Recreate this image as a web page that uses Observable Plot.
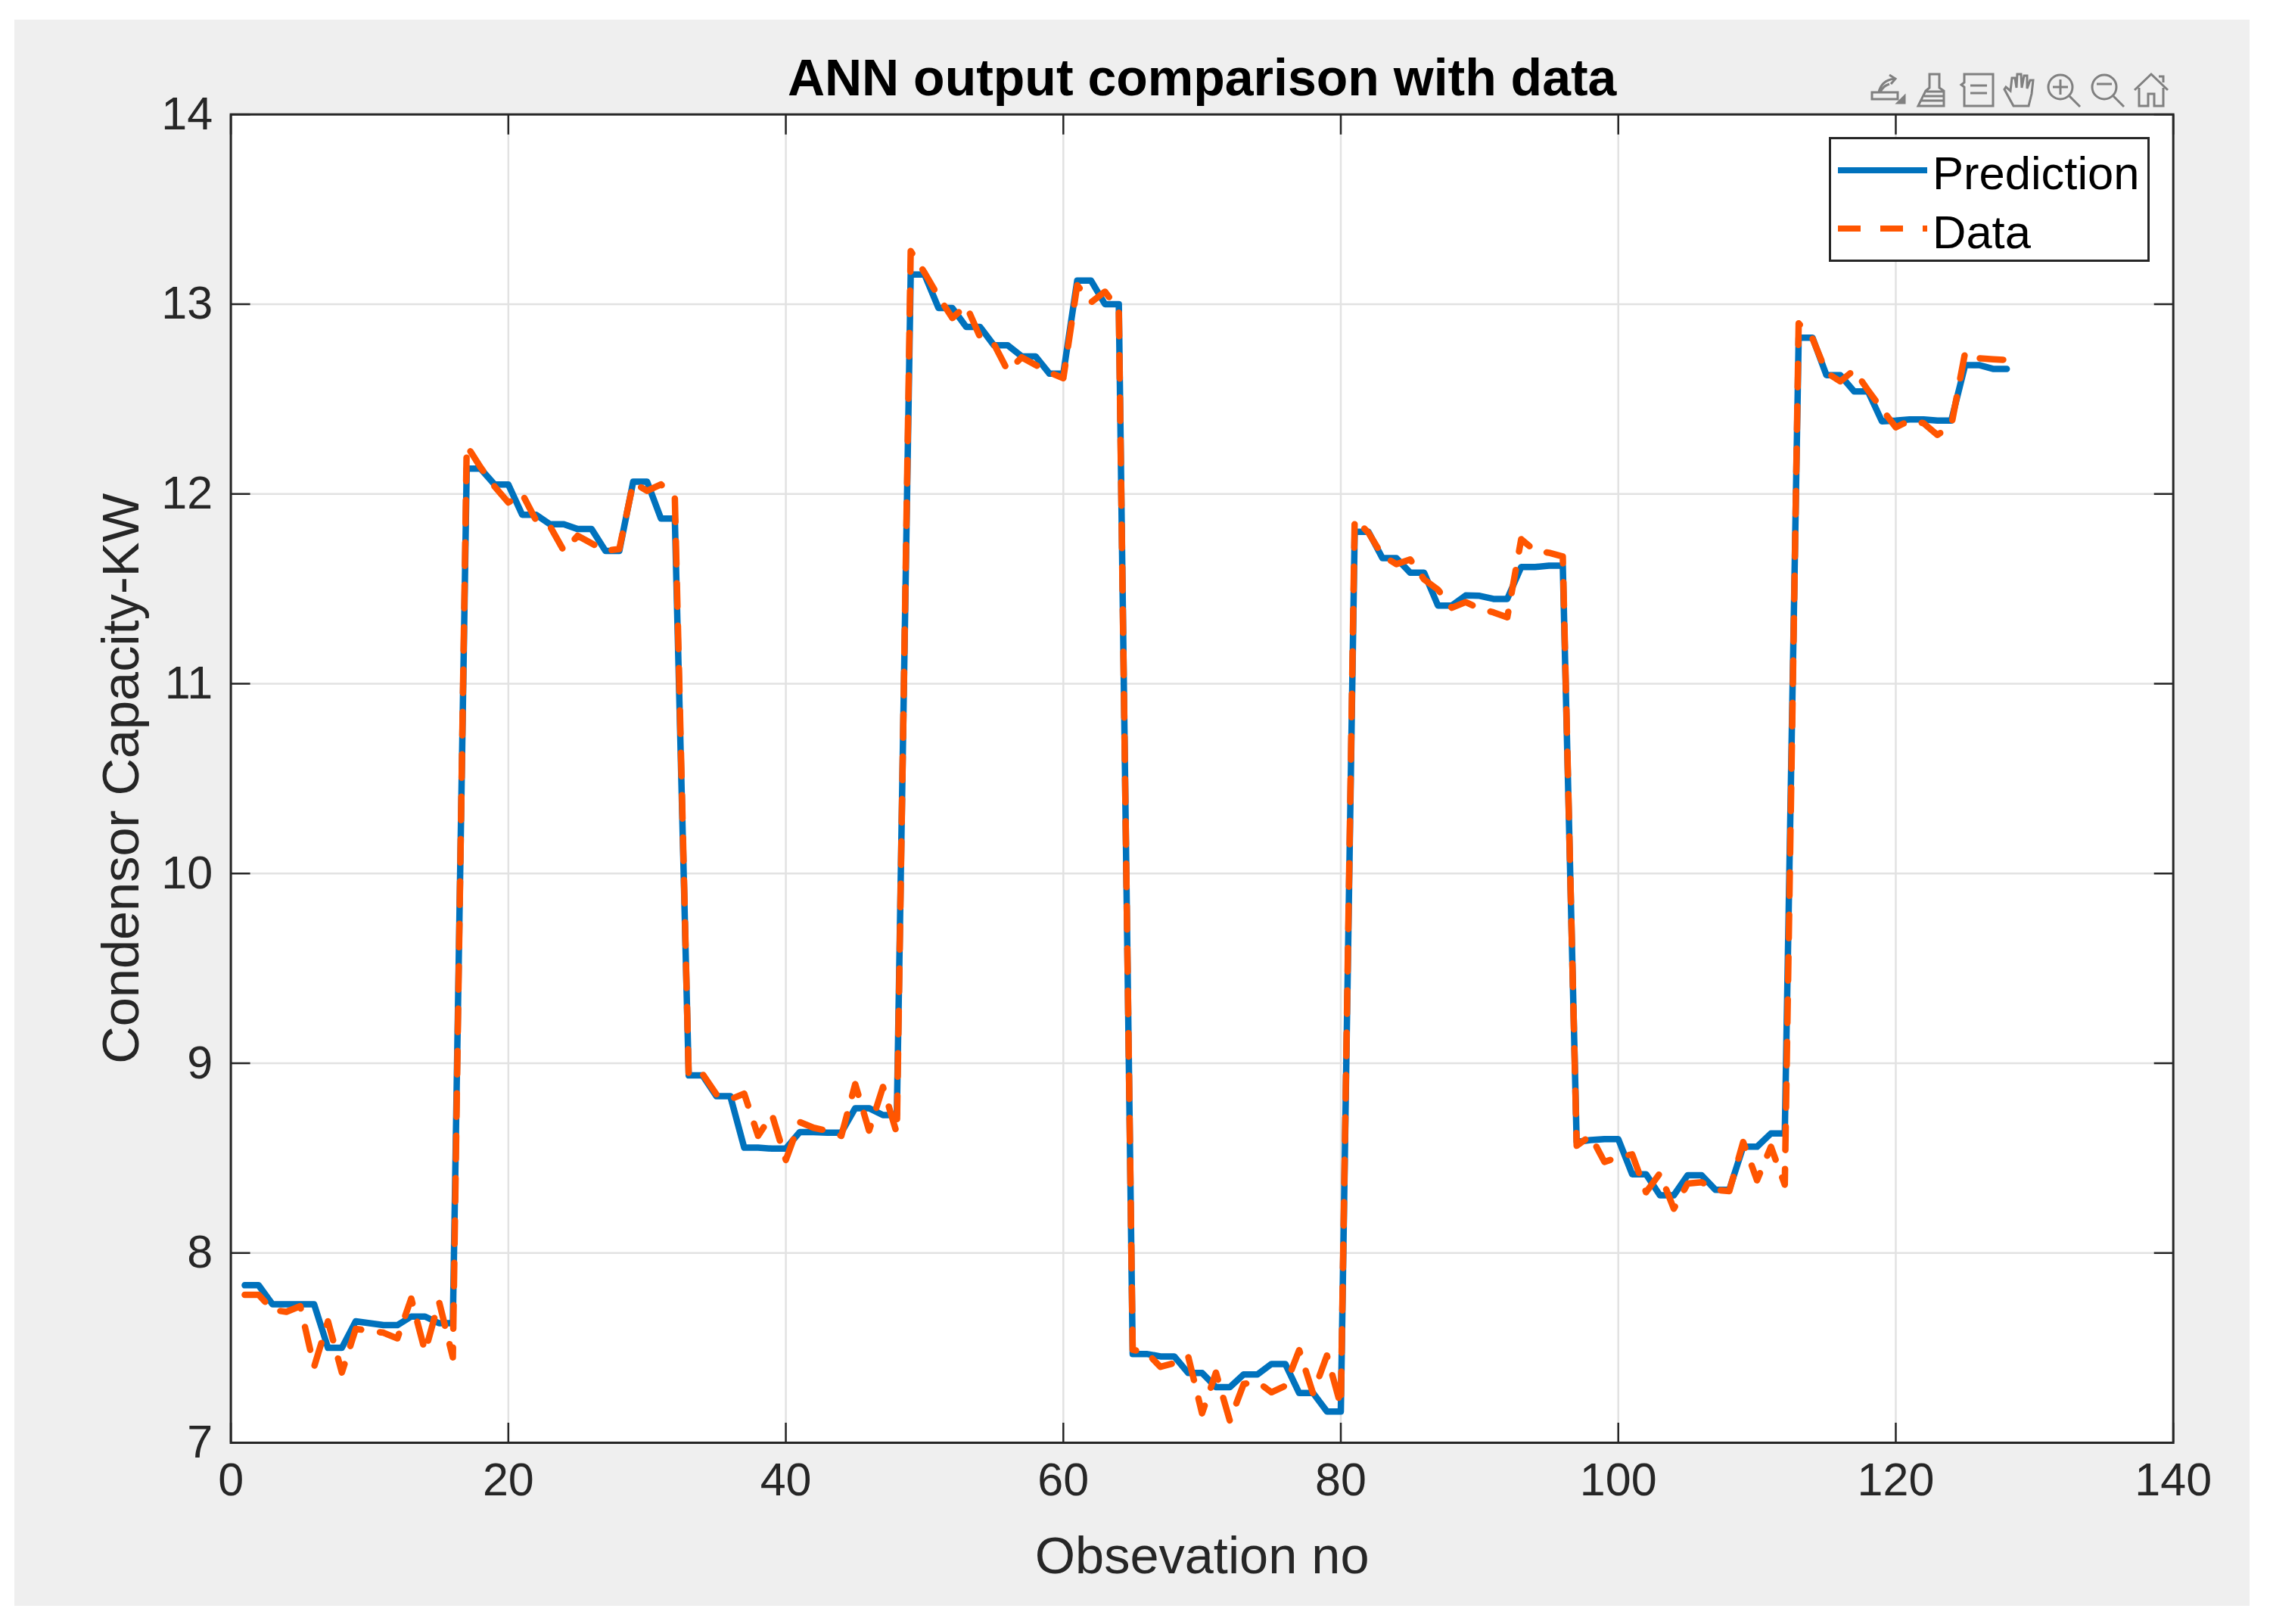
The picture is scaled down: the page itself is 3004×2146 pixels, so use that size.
<!DOCTYPE html>
<html>
<head>
<meta charset="utf-8">
<script src="https://cdn.jsdelivr.net/npm/d3@7"></script>
<script src="https://cdn.jsdelivr.net/npm/@observablehq/plot@0.6"></script>
<style>
html,body{margin:0;padding:0;background:#fff;}
#page{position:relative;width:3004px;height:2146px;overflow:hidden;background:#fff;font-family:"Liberation Sans",Arial,sans-serif;}
#fig{position:absolute;left:19px;top:26px;width:2954px;height:2096px;background:#efefef;}
#chart{position:absolute;left:0;top:0;}
#chart svg{background:transparent;overflow:visible;}
#legend{position:absolute;left:2417px;top:181px;width:424px;height:165px;box-sizing:border-box;border:3px solid #262626;background:#fff;}
#legend svg{position:absolute;left:0;top:0;}
#legend span{position:absolute;left:134px;font-size:61.5px;line-height:61px;color:#000;white-space:nowrap;}
#icons{position:absolute;left:0;top:0;}
</style>
</head>
<body>
<div id="page">
<div id="fig"></div>
<div id="chart"></div>
<svg id="icons" width="3004" height="200" fill="none" stroke="#808080" stroke-width="3">
<g transform="translate(2473,97)"><path d="M1 25h34v9H1zM10 25c2-10 8-16 20-18M24 2l8 5-6 7M12 25c2-6 6-9 12-11"/><path d="M44 30v9h-9z" fill="#808080"/></g>
<g transform="translate(2535,97)"><path d="M15 1h13v18l6 4v20H0l10-20 5-4zM11 24h22M8 30h26M4 36h30"/></g>
<g transform="translate(2590,97)"><path d="M6 1h38v42H6V18l-4-3 4-3zM14 16h22M14 26h22"/></g>
<g transform="translate(2647,97)"><path d="M14 43L2 21l2-3 6 5 2-17 4 0 2 13 1-18h5l1 18 3-16h4l0 17 4-11h4l-2 18-4 16z"/></g>
<g transform="translate(2705,97)"><circle cx="18" cy="18" r="16"/><path d="M30 30l14 14M8 18h20M18 8v20"/></g>
<g transform="translate(2763,97)"><circle cx="18" cy="18" r="16"/><path d="M30 30l14 14M8 14h20"/></g>
<g transform="translate(2821,97)"><path d="M0 22L22 1l22 21M6 19v24h12V27h8v16h12V19M32 4h6v8"/></g>
</svg>
<div id="legend">
<svg width="424" height="165"><line x1="9" x2="127" y1="41" y2="41" stroke="#0072BD" stroke-width="8"/><line x1="9" x2="127" y1="118" y2="118" stroke="#FF5500" stroke-width="8" stroke-dasharray="30,26"/></svg>
<span style="top:14px">Prediction</span>
<span style="top:92px">Data</span>
</div>
</div>
<script>
const titleText = "ANN output comparison with data";
const xLabel = "Obsevation no";
const yLabel = "Condensor Capacity-KW";
const xTicks = [0,20,40,60,80,100,120,140];
const yTicks = [7,8,9,10,11,12,13,14];
const observation = d3.range(1,129);
const prediction = [
7.83,7.83,7.73,7.73,7.73,7.73,7.50,7.50,7.64,7.63,7.62,7.62,7.665,7.665,7.63,7.63,
12.133,12.133,12.05,12.05,11.89,11.89,11.84,11.84,11.815,11.815,11.70,11.70,12.065,12.065,11.87,11.87,
8.936,8.936,8.826,8.826,8.555,8.555,8.55,8.55,8.637,8.637,8.634,8.634,8.763,8.763,8.727,8.727,
13.156,13.156,12.98,12.98,12.88,12.88,12.783,12.783,12.725,12.725,12.634,12.634,13.124,13.124,13.0,13.0,
7.468,7.468,7.455,7.455,7.368,7.368,7.293,7.293,7.36,7.36,7.415,7.415,7.262,7.262,7.165,7.165,
11.80,11.80,11.662,11.662,11.585,11.585,11.412,11.412,11.465,11.463,11.447,11.447,11.615,11.615,11.622,11.622,
8.585,8.595,8.60,8.60,8.415,8.415,8.304,8.304,8.41,8.41,8.333,8.333,8.56,8.56,8.63,8.63,
12.823,12.823,12.626,12.626,12.54,12.54,12.383,12.387,12.393,12.393,12.387,12.387,12.679,12.679,12.659,12.659];
const measured = [
7.78,7.78,7.70,7.69,7.72,7.40,7.64,7.37,7.60,7.59,7.58,7.55,7.76,7.48,7.745,7.45,
12.255,12.14,12.04,11.955,12.0,11.86,11.83,11.70,11.78,11.74,11.70,11.71,12.06,12.016,12.05,11.98,
8.93,8.943,8.836,8.81,8.84,8.617,8.73,8.49,8.69,8.66,8.644,8.617,8.89,8.645,8.875,8.63,
13.28,13.166,13.04,12.927,12.993,12.827,12.79,12.648,12.72,12.68,12.64,12.61,13.10,13.01,13.066,12.97,
7.49,7.475,7.40,7.42,7.455,7.155,7.37,7.116,7.31,7.32,7.266,7.30,7.488,7.26,7.46,7.195,
11.868,11.795,11.675,11.63,11.655,11.55,11.496,11.40,11.43,11.396,11.376,11.35,11.762,11.70,11.69,11.67,
8.565,8.618,8.48,8.505,8.52,8.32,8.42,8.233,8.366,8.373,8.333,8.326,8.585,8.383,8.56,8.36,
12.899,12.819,12.64,12.593,12.653,12.546,12.447,12.351,12.387,12.373,12.311,12.36,12.746,12.715,12.71,12.706];

const chart = Plot.plot({
  width:3004, height:2146,
  marginLeft:304.6, marginRight:132.3, marginTop:150.7, marginBottom:240,
  style:{fontFamily:'"Liberation Sans",Arial,sans-serif',background:"transparent"},
  x:{domain:[0,140],label:null},
  y:{domain:[7,14],label:null},
  marks:[
    Plot.frame({fill:"#fff",stroke:null}),
    Plot.gridX(xTicks,{stroke:"#e2e2e2",strokeOpacity:1,strokeWidth:2.5}),
    Plot.gridY(yTicks,{stroke:"#e2e2e2",strokeOpacity:1,strokeWidth:2.5}),
    Plot.line(observation,{x:d=>d,y:(d,i)=>prediction[i],stroke:"#0072BD",strokeWidth:8.5,strokeLinejoin:"round"}),
    Plot.line(observation,{x:d=>d,y:(d,i)=>measured[i],stroke:"#FF5500",strokeWidth:8.5,strokeDasharray:"31,25",strokeLinejoin:"round"}),
    Plot.axisX({anchor:"bottom",ticks:xTicks,tickSize:-26,tickPadding:52,fontSize:61,fill:"#262626",stroke:"#262626",strokeWidth:2.5,tickFormat:d=>String(d)}),
    Plot.axisX({anchor:"bottom",ticks:[],label:xLabel,labelAnchor:"center",labelArrow:"none",labelOffset:172,fontSize:68.5,fill:"#262626"}),
    Plot.axisX({anchor:"top",ticks:xTicks,tickSize:-26,stroke:"#262626",strokeWidth:2.5,label:null,tickFormat:()=>""}),
    Plot.axisY({anchor:"left",ticks:yTicks,tickSize:-26,tickPadding:50,fontSize:61,fill:"#262626",stroke:"#262626",strokeWidth:2.5,tickFormat:d=>String(d)}),
    Plot.axisY({anchor:"left",ticks:[],label:yLabel,labelAnchor:"center",labelArrow:"none",labelOffset:171,fontSize:68.5,fill:"#262626"}),
    Plot.axisY({anchor:"right",ticks:yTicks,tickSize:-26,stroke:"#262626",strokeWidth:2.5,label:null,tickFormat:()=>""}),
    Plot.frame({stroke:"#262626",strokeWidth:3}),
    Plot.text([titleText],{text:d=>d,frameAnchor:"top",dy:-73,fontSize:68,fontWeight:"bold",fill:"#000"})
  ]
});
document.getElementById("chart").appendChild(chart);
</script>
</body>
</html>
